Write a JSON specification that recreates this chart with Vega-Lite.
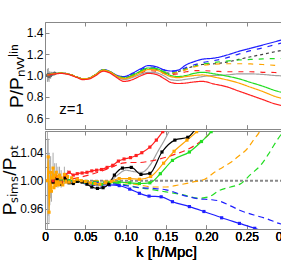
{
"$schema":"https://vega.github.io/schema/vega-lite/v6.json",
"padding":{"left":0,"top":21,"right":0,"bottom":0},
"background":"white",
"spacing":0,
"config":{"view":{"stroke":"#888888","strokeWidth":1},"font":"Liberation Sans","axis":{"grid":false,"domain":false,"tickColor":"#888888","labelFont":"Liberation Sans","labelFontSize":12,"labelFontWeight":"normal","labelColor":"#000000","labelFlush":false,"titleFont":"Liberation Sans","titleFontWeight":"normal","titleColor":"#000000","titleFontSize":19}},
"datasets":{
"top":[
{"s":"bs","k":0.003,"v":1.005},{"s":"bs","k":0.01,"v":1.015},{"s":"bs","k":0.02,"v":1.022},{"s":"bs","k":0.03,"v":1.012},{"s":"bs","k":0.04,"v":0.985},{"s":"bs","k":0.047,"v":0.968},{"s":"bs","k":0.055,"v":0.975},{"s":"bs","k":0.063,"v":1.01},{"s":"bs","k":0.072,"v":1.055},{"s":"bs","k":0.08,"v":1.04},{"s":"bs","k":0.088,"v":1.005},{"s":"bs","k":0.098,"v":0.99},{"s":"bs","k":0.108,"v":1.02},{"s":"bs","k":0.118,"v":1.06},{"s":"bs","k":0.128,"v":1.093},{"s":"bs","k":0.138,"v":1.082},{"s":"bs","k":0.148,"v":1.052},{"s":"bs","k":0.156,"v":1.042},{"s":"bs","k":0.165,"v":1.05},{"s":"bs","k":0.175,"v":1.1},{"s":"bs","k":0.185,"v":1.13},{"s":"bs","k":0.195,"v":1.152},{"s":"bs","k":0.21,"v":1.163},{"s":"bs","k":0.225,"v":1.19},{"s":"bs","k":0.24,"v":1.225},{"s":"bs","k":0.255,"v":1.255},{"s":"bs","k":0.27,"v":1.285},{"s":"bs","k":0.285,"v":1.315},{"s":"bs","k":0.3,"v":1.345},
{"s":"bd","k":0.003,"v":1.005},{"s":"bd","k":0.01,"v":1.015},{"s":"bd","k":0.02,"v":1.022},{"s":"bd","k":0.03,"v":1.012},{"s":"bd","k":0.04,"v":0.985},{"s":"bd","k":0.047,"v":0.968},{"s":"bd","k":0.055,"v":0.975},{"s":"bd","k":0.063,"v":1.01},{"s":"bd","k":0.072,"v":1.05},{"s":"bd","k":0.08,"v":1.035},{"s":"bd","k":0.088,"v":1.0},{"s":"bd","k":0.098,"v":0.985},{"s":"bd","k":0.108,"v":1.012},{"s":"bd","k":0.118,"v":1.05},{"s":"bd","k":0.128,"v":1.08},{"s":"bd","k":0.138,"v":1.075},{"s":"bd","k":0.148,"v":1.05},{"s":"bd","k":0.156,"v":1.038},{"s":"bd","k":0.165,"v":1.045},{"s":"bd","k":0.175,"v":1.075},{"s":"bd","k":0.185,"v":1.1},{"s":"bd","k":0.195,"v":1.12},{"s":"bd","k":0.21,"v":1.14},{"s":"bd","k":0.225,"v":1.165},{"s":"bd","k":0.24,"v":1.2},{"s":"bd","k":0.255,"v":1.232},{"s":"bd","k":0.27,"v":1.258},{"s":"bd","k":0.285,"v":1.288},{"s":"bd","k":0.3,"v":1.315},
{"s":"kd","k":0.003,"v":1.005},{"s":"kd","k":0.01,"v":1.015},{"s":"kd","k":0.02,"v":1.022},{"s":"kd","k":0.03,"v":1.012},{"s":"kd","k":0.04,"v":0.985},{"s":"kd","k":0.047,"v":0.968},{"s":"kd","k":0.055,"v":0.975},{"s":"kd","k":0.063,"v":1.01},{"s":"kd","k":0.072,"v":1.05},{"s":"kd","k":0.08,"v":1.035},{"s":"kd","k":0.088,"v":1.0},{"s":"kd","k":0.098,"v":0.98},{"s":"kd","k":0.108,"v":1.0},{"s":"kd","k":0.118,"v":1.035},{"s":"kd","k":0.128,"v":1.06},{"s":"kd","k":0.138,"v":1.055},{"s":"kd","k":0.148,"v":1.03},{"s":"kd","k":0.156,"v":1.02},{"s":"kd","k":0.165,"v":1.035},{"s":"kd","k":0.175,"v":1.065},{"s":"kd","k":0.185,"v":1.088},{"s":"kd","k":0.195,"v":1.103},{"s":"kd","k":0.21,"v":1.11},{"s":"kd","k":0.225,"v":1.125},{"s":"kd","k":0.24,"v":1.15},{"s":"kd","k":0.255,"v":1.175},{"s":"kd","k":0.27,"v":1.198},{"s":"kd","k":0.285,"v":1.222},{"s":"kd","k":0.3,"v":1.245},
{"s":"gd","k":0.003,"v":1.005},{"s":"gd","k":0.01,"v":1.015},{"s":"gd","k":0.02,"v":1.022},{"s":"gd","k":0.03,"v":1.012},{"s":"gd","k":0.04,"v":0.985},{"s":"gd","k":0.047,"v":0.968},{"s":"gd","k":0.055,"v":0.975},{"s":"gd","k":0.063,"v":1.01},{"s":"gd","k":0.072,"v":1.05},{"s":"gd","k":0.08,"v":1.035},{"s":"gd","k":0.088,"v":1.0},{"s":"gd","k":0.098,"v":0.98},{"s":"gd","k":0.108,"v":1.005},{"s":"gd","k":0.118,"v":1.04},{"s":"gd","k":0.128,"v":1.065},{"s":"gd","k":0.138,"v":1.06},{"s":"gd","k":0.148,"v":1.035},{"s":"gd","k":0.156,"v":1.025},{"s":"gd","k":0.165,"v":1.035},{"s":"gd","k":0.175,"v":1.06},{"s":"gd","k":0.185,"v":1.085},{"s":"gd","k":0.195,"v":1.105},{"s":"gd","k":0.21,"v":1.122},{"s":"gd","k":0.225,"v":1.135},{"s":"gd","k":0.24,"v":1.145},{"s":"gd","k":0.255,"v":1.15},{"s":"gd","k":0.27,"v":1.155},{"s":"gd","k":0.285,"v":1.158},{"s":"gd","k":0.3,"v":1.16},
{"s":"od","k":0.003,"v":1.005},{"s":"od","k":0.01,"v":1.015},{"s":"od","k":0.02,"v":1.022},{"s":"od","k":0.03,"v":1.012},{"s":"od","k":0.04,"v":0.985},{"s":"od","k":0.047,"v":0.968},{"s":"od","k":0.055,"v":0.975},{"s":"od","k":0.063,"v":1.01},{"s":"od","k":0.072,"v":1.05},{"s":"od","k":0.08,"v":1.035},{"s":"od","k":0.088,"v":1.0},{"s":"od","k":0.098,"v":0.978},{"s":"od","k":0.108,"v":1.0},{"s":"od","k":0.118,"v":1.035},{"s":"od","k":0.128,"v":1.06},{"s":"od","k":0.138,"v":1.05},{"s":"od","k":0.148,"v":1.03},{"s":"od","k":0.156,"v":1.02},{"s":"od","k":0.165,"v":1.03},{"s":"od","k":0.175,"v":1.055},{"s":"od","k":0.185,"v":1.08},{"s":"od","k":0.195,"v":1.095},{"s":"od","k":0.21,"v":1.105},{"s":"od","k":0.225,"v":1.11},{"s":"od","k":0.24,"v":1.11},{"s":"od","k":0.255,"v":1.108},{"s":"od","k":0.27,"v":1.103},{"s":"od","k":0.285,"v":1.095},{"s":"od","k":0.3,"v":1.088},
{"s":"rd","k":0.003,"v":1.005},{"s":"rd","k":0.01,"v":1.015},{"s":"rd","k":0.02,"v":1.022},{"s":"rd","k":0.03,"v":1.012},{"s":"rd","k":0.04,"v":0.985},{"s":"rd","k":0.047,"v":0.968},{"s":"rd","k":0.055,"v":0.975},{"s":"rd","k":0.063,"v":1.008},{"s":"rd","k":0.072,"v":1.046},{"s":"rd","k":0.08,"v":1.03},{"s":"rd","k":0.088,"v":0.995},{"s":"rd","k":0.098,"v":0.97},{"s":"rd","k":0.108,"v":0.99},{"s":"rd","k":0.118,"v":1.02},{"s":"rd","k":0.128,"v":1.045},{"s":"rd","k":0.138,"v":1.04},{"s":"rd","k":0.148,"v":1.02},{"s":"rd","k":0.156,"v":1.01},{"s":"rd","k":0.165,"v":1.015},{"s":"rd","k":0.175,"v":1.035},{"s":"rd","k":0.185,"v":1.045},{"s":"rd","k":0.195,"v":1.045},{"s":"rd","k":0.21,"v":1.04},{"s":"rd","k":0.225,"v":1.035},{"s":"rd","k":0.24,"v":1.035},{"s":"rd","k":0.255,"v":1.035},{"s":"rd","k":0.27,"v":1.03},{"s":"rd","k":0.285,"v":1.028},{"s":"rd","k":0.3,"v":1.025},
{"s":"gr","k":0.003,"v":1.004},{"s":"gr","k":0.01,"v":1.014},{"s":"gr","k":0.02,"v":1.021},{"s":"gr","k":0.03,"v":1.01},{"s":"gr","k":0.04,"v":0.983},{"s":"gr","k":0.047,"v":0.965},{"s":"gr","k":0.055,"v":0.972},{"s":"gr","k":0.063,"v":1.005},{"s":"gr","k":0.072,"v":1.045},{"s":"gr","k":0.08,"v":1.03},{"s":"gr","k":0.088,"v":0.992},{"s":"gr","k":0.098,"v":0.963},{"s":"gr","k":0.108,"v":0.98},{"s":"gr","k":0.118,"v":1.01},{"s":"gr","k":0.128,"v":1.03},{"s":"gr","k":0.138,"v":1.025},{"s":"gr","k":0.148,"v":0.995},{"s":"gr","k":0.156,"v":0.96},{"s":"gr","k":0.165,"v":0.955},{"s":"gr","k":0.175,"v":0.965},{"s":"gr","k":0.185,"v":0.975},{"s":"gr","k":0.195,"v":0.99},{"s":"gr","k":0.21,"v":1.0},{"s":"gr","k":0.225,"v":1.005},{"s":"gr","k":0.24,"v":1.015},{"s":"gr","k":0.255,"v":1.015},{"s":"gr","k":0.27,"v":1.01},{"s":"gr","k":0.285,"v":1.0},{"s":"gr","k":0.3,"v":0.995},
{"s":"gs","k":0.003,"v":1.005},{"s":"gs","k":0.01,"v":1.015},{"s":"gs","k":0.02,"v":1.022},{"s":"gs","k":0.03,"v":1.012},{"s":"gs","k":0.04,"v":0.985},{"s":"gs","k":0.047,"v":0.968},{"s":"gs","k":0.055,"v":0.975},{"s":"gs","k":0.063,"v":1.01},{"s":"gs","k":0.072,"v":1.052},{"s":"gs","k":0.08,"v":1.037},{"s":"gs","k":0.088,"v":1.0},{"s":"gs","k":0.098,"v":0.975},{"s":"gs","k":0.108,"v":1.0},{"s":"gs","k":0.118,"v":1.04},{"s":"gs","k":0.128,"v":1.07},{"s":"gs","k":0.138,"v":1.065},{"s":"gs","k":0.148,"v":1.03},{"s":"gs","k":0.156,"v":1.0},{"s":"gs","k":0.165,"v":0.99},{"s":"gs","k":0.175,"v":1.0},{"s":"gs","k":0.185,"v":1.02},{"s":"gs","k":0.195,"v":1.03},{"s":"gs","k":0.21,"v":1.015},{"s":"gs","k":0.225,"v":0.995},{"s":"gs","k":0.24,"v":0.97},{"s":"gs","k":0.255,"v":0.935},{"s":"gs","k":0.27,"v":0.9},{"s":"gs","k":0.285,"v":0.86},{"s":"gs","k":0.3,"v":0.83},
{"s":"os","k":0.003,"v":1.005},{"s":"os","k":0.01,"v":1.015},{"s":"os","k":0.02,"v":1.022},{"s":"os","k":0.03,"v":1.012},{"s":"os","k":0.04,"v":0.985},{"s":"os","k":0.047,"v":0.968},{"s":"os","k":0.055,"v":0.975},{"s":"os","k":0.063,"v":1.01},{"s":"os","k":0.072,"v":1.05},{"s":"os","k":0.08,"v":1.035},{"s":"os","k":0.088,"v":0.998},{"s":"os","k":0.098,"v":0.97},{"s":"os","k":0.108,"v":0.99},{"s":"os","k":0.118,"v":1.025},{"s":"os","k":0.128,"v":1.055},{"s":"os","k":0.138,"v":1.05},{"s":"os","k":0.148,"v":1.015},{"s":"os","k":0.156,"v":0.99},{"s":"os","k":0.165,"v":0.98},{"s":"os","k":0.175,"v":0.99},{"s":"os","k":0.185,"v":1.0},{"s":"os","k":0.195,"v":1.005},{"s":"os","k":0.21,"v":0.985},{"s":"os","k":0.225,"v":0.96},{"s":"os","k":0.24,"v":0.93},{"s":"os","k":0.255,"v":0.89},{"s":"os","k":0.27,"v":0.85},{"s":"os","k":0.285,"v":0.805},{"s":"os","k":0.3,"v":0.775},
{"s":"rs","k":0.003,"v":1.003},{"s":"rs","k":0.01,"v":1.012},{"s":"rs","k":0.02,"v":1.019},{"s":"rs","k":0.03,"v":1.008},{"s":"rs","k":0.04,"v":0.98},{"s":"rs","k":0.047,"v":0.962},{"s":"rs","k":0.055,"v":0.968},{"s":"rs","k":0.063,"v":1.0},{"s":"rs","k":0.072,"v":1.04},{"s":"rs","k":0.08,"v":1.025},{"s":"rs","k":0.088,"v":0.985},{"s":"rs","k":0.098,"v":0.945},{"s":"rs","k":0.108,"v":0.96},{"s":"rs","k":0.118,"v":0.995},{"s":"rs","k":0.128,"v":1.02},{"s":"rs","k":0.138,"v":1.01},{"s":"rs","k":0.148,"v":0.97},{"s":"rs","k":0.156,"v":0.935},{"s":"rs","k":0.165,"v":0.925},{"s":"rs","k":0.175,"v":0.93},{"s":"rs","k":0.185,"v":0.94},{"s":"rs","k":0.195,"v":0.945},{"s":"rs","k":0.21,"v":0.92},{"s":"rs","k":0.225,"v":0.895},{"s":"rs","k":0.24,"v":0.855},{"s":"rs","k":0.255,"v":0.815},{"s":"rs","k":0.27,"v":0.775},{"s":"rs","k":0.285,"v":0.735},{"s":"rs","k":0.3,"v":0.71}
],
"topErr":[
{"k":0.003,"v":0.94,"v2":1.06},{"k":0.004,"v":0.955,"v2":1.07},{"k":0.005,"v":0.94,"v2":1.035},{"k":0.006,"v":0.97,"v2":1.04},{"k":0.007,"v":0.97,"v2":1.03},{"k":0.008,"v":0.985,"v2":1.035},{"k":0.01,"v":0.995,"v2":1.035},{"k":0.012,"v":1.0,"v2":1.04}
],
"topPts":[
{"k":0.003,"v":1.0},{"k":0.004,"v":1.01},{"k":0.005,"v":0.99},{"k":0.006,"v":1.005},{"k":0.007,"v":1.0},{"k":0.008,"v":1.01},{"k":0.01,"v":1.015},{"k":0.012,"v":1.02}
],
"label":[{"k":0.033,"v":0.69,"t":"z=1"}],
"ref":[{"k":0,"v":1.0},{"k":0.3,"v":1.0}],
"bot":[
{"s":"g2","k":0.01,"v":1.0},{"s":"g2","k":0.03,"v":1.0},{"s":"g2","k":0.05,"v":0.997},{"s":"g2","k":0.065,"v":0.993},{"s":"g2","k":0.08,"v":0.998},{"s":"g2","k":0.09,"v":1.008},{"s":"g2","k":0.1,"v":1.015},{"s":"g2","k":0.11,"v":1.013},{"s":"g2","k":0.12,"v":1.012},{"s":"g2","k":0.13,"v":1.022},{"s":"g2","k":0.14,"v":1.042},{"s":"g2","k":0.15,"v":1.062},{"s":"g2","k":0.16,"v":1.085},
{"s":"rd2","k":0.01,"v":1.0},{"s":"rd2","k":0.04,"v":1.004},{"s":"rd2","k":0.06,"v":1.01},{"s":"rd2","k":0.08,"v":1.018},{"s":"rd2","k":0.096,"v":1.025},{"s":"rd2","k":0.107,"v":1.026},{"s":"rd2","k":0.117,"v":1.026},{"s":"rd2","k":0.13,"v":1.028},{"s":"rd2","k":0.142,"v":1.031},{"s":"rd2","k":0.162,"v":1.038},{"s":"rd2","k":0.179,"v":1.046},{"s":"rd2","k":0.195,"v":1.058},{"s":"rd2","k":0.206,"v":1.07},{"s":"rd2","k":0.212,"v":1.08},
{"s":"od2","k":0.01,"v":1.0},{"s":"od2","k":0.06,"v":1.0},{"s":"od2","k":0.1,"v":0.997},{"s":"od2","k":0.117,"v":0.994},{"s":"od2","k":0.133,"v":0.991},{"s":"od2","k":0.15,"v":0.991},{"s":"od2","k":0.166,"v":0.994},{"s":"od2","k":0.183,"v":0.998},{"s":"od2","k":0.198,"v":1.002},{"s":"od2","k":0.21,"v":1.012},{"s":"od2","k":0.22,"v":1.019},{"s":"od2","k":0.23,"v":1.026},{"s":"od2","k":0.241,"v":1.036},{"s":"od2","k":0.251,"v":1.046},{"s":"od2","k":0.259,"v":1.059},{"s":"od2","k":0.266,"v":1.07},{"s":"od2","k":0.27,"v":1.08},
{"s":"gd2","k":0.01,"v":1.0},{"s":"gd2","k":0.06,"v":0.999},{"s":"gd2","k":0.1,"v":0.994},{"s":"gd2","k":0.117,"v":0.99},{"s":"gd2","k":0.129,"v":0.988},{"s":"gd2","k":0.15,"v":0.984},{"s":"gd2","k":0.17,"v":0.98},{"s":"gd2","k":0.191,"v":0.975},{"s":"gd2","k":0.203,"v":0.977},{"s":"gd2","k":0.216,"v":0.986},{"s":"gd2","k":0.23,"v":0.991},{"s":"gd2","k":0.243,"v":0.996},{"s":"gd2","k":0.255,"v":1.009},{"s":"gd2","k":0.268,"v":1.023},{"s":"gd2","k":0.277,"v":1.038},{"s":"gd2","k":0.285,"v":1.053},{"s":"gd2","k":0.295,"v":1.07},{"s":"gd2","k":0.3,"v":1.078},
{"s":"bd2","k":0.01,"v":1.0},{"s":"bd2","k":0.06,"v":0.998},{"s":"bd2","k":0.1,"v":0.993},{"s":"bd2","k":0.117,"v":0.99},{"s":"bd2","k":0.133,"v":0.989},{"s":"bd2","k":0.15,"v":0.987},{"s":"bd2","k":0.175,"v":0.978},{"s":"bd2","k":0.191,"v":0.974},{"s":"bd2","k":0.205,"v":0.973},{"s":"bd2","k":0.216,"v":0.971},{"s":"bd2","k":0.23,"v":0.964},{"s":"bd2","k":0.243,"v":0.957},{"s":"bd2","k":0.259,"v":0.951},{"s":"bd2","k":0.274,"v":0.946},{"s":"bd2","k":0.29,"v":0.939},{"s":"bd2","k":0.3,"v":0.936}
],
"pts":[
{"s":"bp","k":0.01,"v":1.0},{"s":"bp","k":0.02,"v":1.0},{"s":"bp","k":0.03,"v":1.0},{"s":"bp","k":0.04,"v":0.999},{"s":"bp","k":0.05,"v":0.997},{"s":"bp","k":0.06,"v":0.995},{"s":"bp","k":0.07,"v":0.994},{"s":"bp","k":0.08,"v":0.994},{"s":"bp","k":0.092,"v":0.993},{"s":"bp","k":0.105,"v":0.988},{"s":"bp","k":0.117,"v":0.982},{"s":"bp","k":0.129,"v":0.978},{"s":"bp","k":0.144,"v":0.977},{"s":"bp","k":0.158,"v":0.97},{"s":"bp","k":0.179,"v":0.963},{"s":"bp","k":0.197,"v":0.956},{"s":"bp","k":0.219,"v":0.947},{"s":"bp","k":0.241,"v":0.939},{"s":"bp","k":0.26,"v":0.932},{"s":"bp","k":0.27,"v":0.928},
{"s":"gp","k":0.01,"v":1.0},{"s":"gp","k":0.02,"v":1.0},{"s":"gp","k":0.03,"v":1.0},{"s":"gp","k":0.04,"v":0.999},{"s":"gp","k":0.05,"v":0.998},{"s":"gp","k":0.06,"v":0.996},{"s":"gp","k":0.07,"v":0.995},{"s":"gp","k":0.08,"v":0.997},{"s":"gp","k":0.092,"v":0.998},{"s":"gp","k":0.105,"v":0.997},{"s":"gp","k":0.117,"v":0.996},{"s":"gp","k":0.13,"v":0.997},{"s":"gp","k":0.143,"v":1.01},{"s":"gp","k":0.158,"v":1.029},{"s":"gp","k":0.179,"v":1.041},{"s":"gp","k":0.194,"v":1.056},{"s":"gp","k":0.206,"v":1.07},{"s":"gp","k":0.212,"v":1.08},
{"s":"kp","k":0.01,"v":0.998},{"s":"kp","k":0.015,"v":1.003},{"s":"kp","k":0.02,"v":0.995},{"s":"kp","k":0.025,"v":1.004},{"s":"kp","k":0.03,"v":0.997},{"s":"kp","k":0.035,"v":0.996},{"s":"kp","k":0.04,"v":0.999},{"s":"kp","k":0.046,"v":0.998},{"s":"kp","k":0.052,"v":0.995},{"s":"kp","k":0.058,"v":0.991},{"s":"kp","k":0.065,"v":0.989},{"s":"kp","k":0.072,"v":0.99},{"s":"kp","k":0.079,"v":0.995},{"s":"kp","k":0.086,"v":1.008},{"s":"kp","k":0.096,"v":1.018},{"s":"kp","k":0.107,"v":1.019},{"s":"kp","k":0.119,"v":1.009},{"s":"kp","k":0.13,"v":1.0105},{"s":"kp","k":0.145,"v":1.041},{"s":"kp","k":0.161,"v":1.058},{"s":"kp","k":0.177,"v":1.062},{"s":"kp","k":0.19,"v":1.08},
{"s":"rp","k":0.01,"v":1.0},{"s":"rp","k":0.015,"v":1.006},{"s":"rp","k":0.02,"v":0.998},{"s":"rp","k":0.025,"v":1.008},{"s":"rp","k":0.03,"v":1.012},{"s":"rp","k":0.035,"v":1.008},{"s":"rp","k":0.04,"v":1.01},{"s":"rp","k":0.046,"v":1.011},{"s":"rp","k":0.052,"v":1.012},{"s":"rp","k":0.058,"v":1.014},{"s":"rp","k":0.064,"v":1.015},{"s":"rp","k":0.07,"v":1.016},{"s":"rp","k":0.077,"v":1.019},{"s":"rp","k":0.084,"v":1.022},{"s":"rp","k":0.091,"v":1.028},{"s":"rp","k":0.098,"v":1.031},{"s":"rp","k":0.106,"v":1.033},{"s":"rp","k":0.113,"v":1.036},{"s":"rp","k":0.12,"v":1.04},{"s":"rp","k":0.13,"v":1.048},{"s":"rp","k":0.138,"v":1.058},{"s":"rp","k":0.146,"v":1.07},{"s":"rp","k":0.152,"v":1.08},
{"s":"op","k":0.003,"v":1.0},{"s":"op","k":0.004,"v":1.034},{"s":"op","k":0.005,"v":0.955},{"s":"op","k":0.006,"v":0.99},{"s":"op","k":0.007,"v":1.012},{"s":"op","k":0.008,"v":0.985},{"s":"op","k":0.009,"v":1.004},{"s":"op","k":0.01,"v":1.018},{"s":"op","k":0.011,"v":0.99},{"s":"op","k":0.012,"v":1.008},{"s":"op","k":0.013,"v":0.993},{"s":"op","k":0.014,"v":1.012},{"s":"op","k":0.015,"v":0.996},{"s":"op","k":0.016,"v":1.006},{"s":"op","k":0.017,"v":0.994},{"s":"op","k":0.018,"v":1.008},{"s":"op","k":0.019,"v":0.997},{"s":"op","k":0.02,"v":1.004},{"s":"op","k":0.022,"v":0.994},{"s":"op","k":0.024,"v":1.009},{"s":"op","k":0.026,"v":0.998},{"s":"op","k":0.028,"v":1.006},{"s":"op","k":0.03,"v":0.998},{"s":"op","k":0.033,"v":1.004},{"s":"op","k":0.036,"v":0.999},{"s":"op","k":0.04,"v":1.002},{"s":"op","k":0.045,"v":1.0},{"s":"op","k":0.05,"v":0.999},{"s":"op","k":0.056,"v":0.997},{"s":"op","k":0.062,"v":0.996},{"s":"op","k":0.068,"v":0.995},{"s":"op","k":0.075,"v":0.997},{"s":"op","k":0.082,"v":0.999},{"s":"op","k":0.092,"v":1.003},{"s":"op","k":0.105,"v":1.003},{"s":"op","k":0.117,"v":1.002},{"s":"op","k":0.131,"v":1.006},{"s":"op","k":0.147,"v":1.025},{"s":"op","k":0.16,"v":1.042},{"s":"op","k":0.176,"v":1.058},{"s":"op","k":0.188,"v":1.07},{"s":"op","k":0.195,"v":1.08}
],
"botErr":[
{"k":0.003,"v":0.93,"v2":1.07},{"k":0.004,"v":0.95,"v2":1.06},{"k":0.005,"v":0.94,"v2":1.04},{"k":0.006,"v":0.965,"v2":1.03},{"k":0.007,"v":0.975,"v2":1.035},{"k":0.008,"v":0.97,"v2":1.01},{"k":0.01,"v":0.995,"v2":1.04},{"k":0.012,"v":0.99,"v2":1.025},{"k":0.014,"v":0.995,"v2":1.025},{"k":0.016,"v":0.99,"v2":1.02},{"k":0.018,"v":0.995,"v2":1.02},{"k":0.02,"v":0.99,"v2":1.015},{"k":0.024,"v":0.995,"v2":1.02},{"k":0.028,"v":0.995,"v2":1.015}
]
},
"vconcat":[
{"width":242,"height":107,
 "encoding":{
  "x":{"field":"k","type":"quantitative","scale":{"domain":[0,0.3],"nice":false,"zero":false},"axis":{"orient":"bottom","labels":false,"title":null,"values":[0,0.05,0.1,0.15,0.2,0.25,0.3],"tickSize":-4}},
  "y":{"field":"v","type":"quantitative","scale":{"domain":[0.5,1.5],"nice":false,"zero":false},"axis":{"values":[0.6,0.8,1.0,1.2,1.4],"format":".1f","tickSize":-4,"labelPadding":6,"title":"P/Pₙᵥᵥˡⁱⁿ","titlePadding":0,"titleFontWeight":"normal"}}},
 "layer":[
  {"data":{"name":"topErr"},"mark":{"type":"rule","color":"#999999","strokeWidth":1,"clip":true},"encoding":{"y2":{"field":"v2"}}},
  {"data":{"name":"topPts"},"mark":{"type":"point","shape":"square","size":8,"filled":true,"color":"#666666","clip":true,"opacity":1}},
  {"data":{"name":"top"},"mark":{"type":"line","clip":true,"interpolate":"monotone","strokeWidth":1.2},
   "encoding":{
    "color":{"field":"s","type":"nominal","legend":null,"scale":{"domain":["bs","bd","kd","gd","od","rd","gr","gs","os","rs","g2","rd2","od2","gd2","bd2","bp","gp","kp","rp","op"],"range":["#1f1fff","#1f1fff","#404040","#22dd22","#ffa500","#ff2020","#a0a0a0","#22dd22","#ffa500","#ff2020","#a0a0a0","#ff2020","#ffa500","#22dd22","#1f1fff","#1f1fff","#22dd22","#000000","#ff2020","#ffa500"]}},
    "strokeDash":{"field":"s","type":"nominal","legend":null,"scale":{"domain":["bs","bd","kd","gd","od","rd","gr","gs","os","rs","g2","rd2","od2","gd2","bd2","bp","gp","kp","rp","op"],"range":[[1,0],[5,6],[3,3],[5,6],[5,6],[5,6],[1,0],[1,0],[1,0],[1,0],[1,0],[6,4],[6,4],[6,4],[6,4],[1,0],[1,0],[1,0],[1,0],[1,0]]}}}},
  {"data":{"name":"label"},"mark":{"type":"text","fontSize":15,"font":"Liberation Sans","color":"#000000"},
   "encoding":{"x":{"field":"k","type":"quantitative","axis":{"orient":"top","labels":false,"title":null,"values":[0,0.05,0.1,0.15,0.2,0.25,0.3],"tickSize":-4}},"text":{"field":"t"}}}
 ]},
{"width":242,"height":98,
 "encoding":{
  "x":{"field":"k","type":"quantitative","scale":{"domain":[0,0.3],"nice":false,"zero":false},"axis":{"orient":"bottom","values":[0,0.05,0.1,0.15,0.2,0.25,0.3],"tickSize":-4,"labelPadding":6,"labelFlush":false,"labelExpr":"datum.value == 0 ? '0' : format(datum.value, '.2f')","title":"k [h/Mpc]","titleFontSize":15,"titleFontWeight":"normal","titlePadding":2}},
  "y":{"field":"v","type":"quantitative","scale":{"domain":[0.931,1.071],"nice":false,"zero":false},"axis":{"values":[0.94,0.96,0.98,1.0,1.02,1.04,1.06],"tickSize":-4,"labelPadding":6,"labelExpr":"(abs(datum.value-0.96)<0.001 || abs(datum.value-1)<0.001 || abs(datum.value-1.04)<0.001) ? format(datum.value, '.2f') : ''","title":"Pₛᵢₘₛ/Pₚₜ","titlePadding":0,"titleFontWeight":"normal"}}},
 "layer":[
  {"data":{"name":"botErr"},"mark":{"type":"rule","color":"#aaaaaa","strokeWidth":1,"clip":true},"encoding":{"y2":{"field":"v2"}}},
  {"data":{"name":"ref"},"mark":{"type":"line","color":"#888888","strokeWidth":2,"strokeDash":[3,2]},"encoding":{}},
  {"data":{"name":"bot"},"mark":{"type":"line","clip":true,"interpolate":"monotone","strokeWidth":1.2},
   "encoding":{
    "color":{"field":"s","type":"nominal","legend":null,"scale":{"domain":["bs","bd","kd","gd","od","rd","gr","gs","os","rs","g2","rd2","od2","gd2","bd2","bp","gp","kp","rp","op"],"range":["#1f1fff","#1f1fff","#404040","#22dd22","#ffa500","#ff2020","#a0a0a0","#22dd22","#ffa500","#ff2020","#a0a0a0","#ff2020","#ffa500","#22dd22","#1f1fff","#1f1fff","#22dd22","#000000","#ff2020","#ffa500"]}},
    "strokeDash":{"field":"s","type":"nominal","legend":null,"scale":{"domain":["bs","bd","kd","gd","od","rd","gr","gs","os","rs","g2","rd2","od2","gd2","bd2","bp","gp","kp","rp","op"],"range":[[1,0],[5,6],[3,3],[5,6],[5,6],[5,6],[1,0],[1,0],[1,0],[1,0],[1,0],[6,4],[6,4],[6,4],[6,4],[1,0],[1,0],[1,0],[1,0],[1,0]]}}}},
  {"data":{"name":"pts"},"mark":{"type":"line","clip":true,"interpolate":"monotone","strokeWidth":1.2,"point":{"shape":"square","size":10,"filled":true,"clip":true}},
   "encoding":{"x":{"field":"k","type":"quantitative","axis":{"orient":"top","labels":false,"title":null,"values":[0,0.05,0.1,0.15,0.2,0.25,0.3],"tickSize":-4}},
    "color":{"field":"s","type":"nominal","legend":null,"scale":{"domain":["bs","bd","kd","gd","od","rd","gr","gs","os","rs","g2","rd2","od2","gd2","bd2","bp","gp","kp","rp","op"],"range":["#1f1fff","#1f1fff","#404040","#22dd22","#ffa500","#ff2020","#a0a0a0","#22dd22","#ffa500","#ff2020","#a0a0a0","#ff2020","#ffa500","#22dd22","#1f1fff","#1f1fff","#22dd22","#000000","#ff2020","#ffa500"]}}}}
 ]}
]
}
